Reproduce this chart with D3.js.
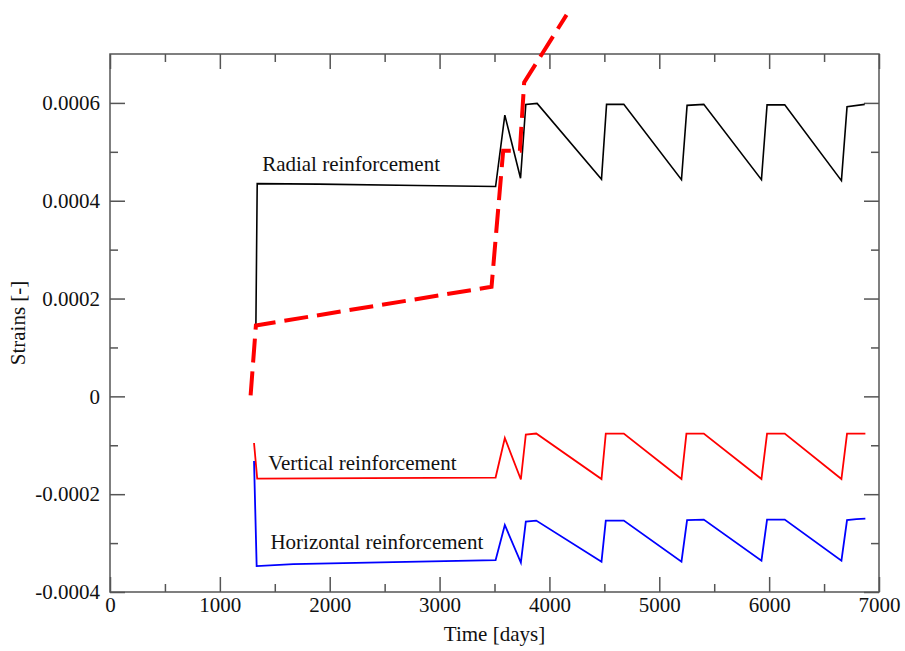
<!DOCTYPE html>
<html>
<head>
<meta charset="utf-8">
<script src="https://cdn.jsdelivr.net/npm/d3@7"></script>
<style>
body { margin: 0; background: #fff; }
text { font-family: "Liberation Serif", "Times New Roman", serif; fill: #111; }
</style>
</head>
<body>
<div id="chart"></div>
<script>
// Radial reinforcement (black)
const radialTime = [1328, 1340, 1900, 2800, 3510, 3594, 3737, 3785, 3888, 4474, 4520, 4677, 5202, 5253, 5405, 5930, 5981, 6142, 6658, 6709, 6870];
const radialStrain = [0.000145, 0.000435, 0.000434, 0.000431, 0.000429, 0.000575, 0.000446, 0.000597, 0.000599, 0.000444, 0.000597, 0.000597, 0.000443, 0.000595, 0.000597, 0.000443, 0.000596, 0.000596, 0.000441, 0.000592, 0.000597];

// Vertical reinforcement (red)
const verticalTime = [1311, 1340, 2350, 3510, 3594, 3740, 3785, 3880, 4474, 4513, 4677, 5202, 5247, 5405, 5930, 5981, 6142, 6658, 6709, 6876];
const verticalStrain = [-0.0000953, -0.000168, -0.000167, -0.000166, -0.000085, -0.000170, -0.000078, -0.000076, -0.000169, -0.000076, -0.000076, -0.000169, -0.000076, -0.000076, -0.000169, -0.000076, -0.000076, -0.000169, -0.000076, -0.000076];

// Horizontal reinforcement (blue)
const horizontalTime = [1311, 1335, 1668, 2578, 3510, 3594, 3740, 3785, 3880, 4474, 4513, 4677, 5202, 5253, 5405, 5930, 5981, 6142, 6658, 6709, 6795, 6876];
const horizontalStrain = [-0.000132, -0.000347, -0.000343, -0.000339, -0.000335, -0.000263, -0.000340, -0.000256, -0.000254, -0.000338, -0.000254, -0.000254, -0.000338, -0.000253, -0.000252, -0.000336, -0.000252, -0.000252, -0.000336, -0.000253, -0.000251, -0.000250];

// Dashed red curve
const dashedTime = [1280, 1328, 3473, 3579, 3731, 3770, 4156];
const dashedStrain = [0.000002, 0.000145, 0.000224, 0.000502, 0.000502, 0.000642, 0.000780];

const xTicks = [0, 1000, 2000, 3000, 4000, 5000, 6000, 7000];
const yTicks = [-0.0004, -0.0002, 0, 0.0002, 0.0004, 0.0006];
const yTickLabels = ['-0.0004', '-0.0002', '0', '0.0002', '0.0004', '0.0006'];

const W = 905, H = 651;
const margin = { top: 54, right: 26, bottom: 59, left: 110 };
const width = W - margin.left - margin.right;
const height = H - margin.top - margin.bottom;
const fontSize = 21;

const svg = d3.select('#chart')
    .append('svg')
    .attr('width', W)
    .attr('height', H);

const g = svg.append('g')
    .attr('transform', `translate(${margin.left},${margin.top})`);

const x = d3.scaleLinear().domain([0, 7000]).range([0, width]);
const y = d3.scaleLinear().domain([-0.0004, 0.0007]).range([height, 0]);

const axisColor = '#555';
const minorX = d3.range(500, 7000, 1000);
const minorY = [-0.0003, -0.0001, 0.0001, 0.0003, 0.0005];

function styleAxis(sel) {
    sel.select('.domain').remove();
    sel.selectAll('line').attr('stroke', axisColor).attr('stroke-width', 1.5);
    sel.selectAll('text').attr('font-size', fontSize).attr('fill', '#111')
        .attr('font-family', '"Liberation Serif", "Times New Roman", serif');
}

// bottom axis with labels
g.append('g')
    .attr('transform', `translate(0,${height})`)
    .call(d3.axisBottom(x).tickValues(xTicks).tickSize(-15).tickPadding(5).tickFormat(d3.format('d')))
    .call(styleAxis);
g.append('g')
    .attr('transform', `translate(0,${height})`)
    .call(d3.axisBottom(x).tickValues(minorX).tickSize(-8).tickFormat(''))
    .call(styleAxis);

// top axis (mirror ticks)
g.append('g')
    .call(d3.axisTop(x).tickValues(xTicks).tickSize(-15).tickFormat(''))
    .call(styleAxis);
g.append('g')
    .call(d3.axisTop(x).tickValues(minorX).tickSize(-8).tickFormat(''))
    .call(styleAxis);

// left axis with labels
g.append('g')
    .call(d3.axisLeft(y).tickValues(yTicks).tickSize(-15).tickPadding(10)
        .tickFormat((d, i) => yTickLabels[i]))
    .call(styleAxis);
g.append('g')
    .call(d3.axisLeft(y).tickValues(minorY).tickSize(-8).tickFormat(''))
    .call(styleAxis);

// right axis (mirror ticks)
g.append('g')
    .attr('transform', `translate(${width},0)`)
    .call(d3.axisRight(y).tickValues(yTicks).tickSize(-15).tickFormat(''))
    .call(styleAxis);
g.append('g')
    .attr('transform', `translate(${width},0)`)
    .call(d3.axisRight(y).tickValues(minorY).tickSize(-8).tickFormat(''))
    .call(styleAxis);

// frame
g.append('rect')
    .attr('width', width)
    .attr('height', height)
    .attr('fill', 'none')
    .attr('stroke', axisColor)
    .attr('stroke-width', 1.5);

const line = d3.line()
    .x(d => x(d[0]))
    .y(d => y(d[1]));

const zip = (a, b) => a.map((t, i) => [t, b[i]]);

g.append('path')
    .datum(zip(radialTime, radialStrain))
    .attr('fill', 'none')
    .attr('stroke', '#000')
    .attr('stroke-width', 1.6)
    .attr('d', line);

g.append('path')
    .datum(zip(verticalTime, verticalStrain))
    .attr('fill', 'none')
    .attr('stroke', '#ff0000')
    .attr('stroke-width', 1.8)
    .attr('d', line);

g.append('path')
    .datum(zip(horizontalTime, horizontalStrain))
    .attr('fill', 'none')
    .attr('stroke', '#0000ff')
    .attr('stroke-width', 1.8)
    .attr('d', line);

g.append('path')
    .datum(zip(dashedTime, dashedStrain))
    .attr('fill', 'none')
    .attr('stroke', '#ff0000')
    .attr('stroke-width', 4)
    .attr('stroke-dasharray', '24,9')
    .attr('d', line);

// annotations
const notes = [
    { text: 'Radial reinforcement', t: 1385, s: 0.00046 },
    { text: 'Vertical reinforcement', t: 1440, s: -0.00015 },
    { text: 'Horizontal reinforcement', t: 1460, s: -0.000313 }
];
g.selectAll('.note')
    .data(notes)
    .enter()
    .append('text')
    .attr('class', 'note')
    .attr('x', d => x(d.t))
    .attr('y', d => y(d.s))
    .attr('font-size', fontSize)
    .text(d => d.text);

// axis titles
svg.append('text')
    .attr('x', margin.left + width / 2)
    .attr('y', 641)
    .attr('text-anchor', 'middle')
    .attr('font-size', fontSize)
    .text('Time [days]');

svg.append('text')
    .attr('transform', `translate(25,${margin.top + y(0.00015)}) rotate(-90)`)
    .attr('text-anchor', 'middle')
    .attr('font-size', fontSize)
    .text('Strains [-]');
</script>
</body>
</html>
